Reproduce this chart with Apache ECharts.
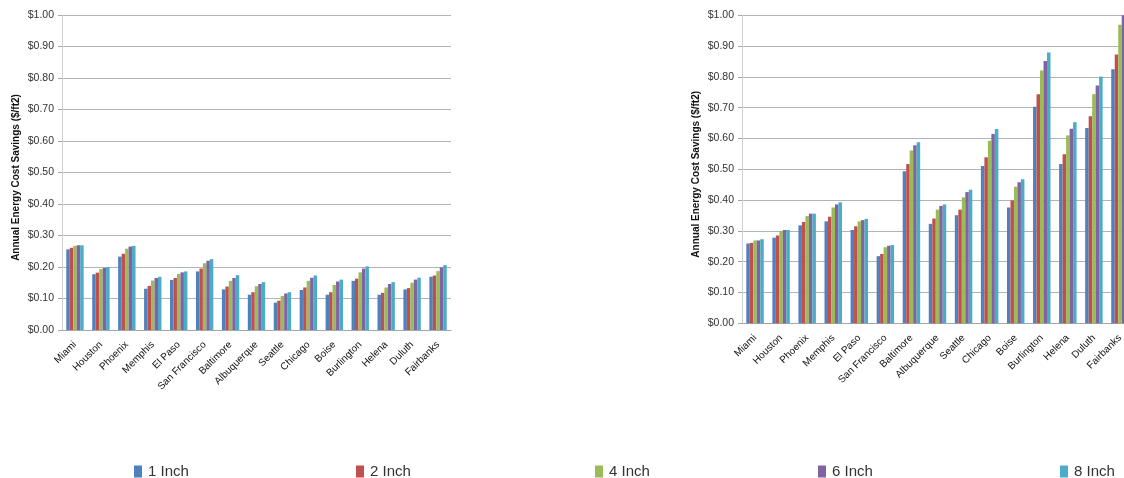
<!DOCTYPE html>
<html>
<head>
<meta charset="utf-8">
<script src="https://cdn.jsdelivr.net/npm/echarts@6/dist/echarts.min.js"></script>
<style>
  html, body { margin: 0; padding: 0; background: #fff; }
  #chart { width: 1124px; height: 478px; }
</style>
</head>
<body>
<div id="chart"></div>
<script>
// Cities shared by both panels
const cities = ['Miami', 'Houston', 'Phoenix', 'Memphis', 'El Paso', 'San Francisco', 'Baltimore',
  'Albuquerque', 'Seattle', 'Chicago', 'Boise', 'Burlington', 'Helena', 'Duluth', 'Fairbanks'];

const seriesNames = ['1 Inch', '2 Inch', '4 Inch', '6 Inch', '8 Inch'];
const seriesColors = ['#4F81BD', '#C0504D', '#9BBB59', '#8064A2', '#4BACC6'];

// Left panel: annual savings ($/ft2) by insulation thickness
const leftInch1 = [0.256, 0.177, 0.233, 0.131, 0.159, 0.186, 0.129, 0.112, 0.087, 0.127, 0.112, 0.156, 0.112, 0.129, 0.169];
const leftInch2 = [0.261, 0.182, 0.242, 0.140, 0.165, 0.195, 0.138, 0.120, 0.093, 0.135, 0.120, 0.163, 0.118, 0.133, 0.173];
const leftInch4 = [0.267, 0.193, 0.258, 0.157, 0.178, 0.212, 0.156, 0.139, 0.108, 0.156, 0.143, 0.183, 0.135, 0.150, 0.187];
const leftInch6 = [0.269, 0.197, 0.265, 0.165, 0.183, 0.220, 0.165, 0.146, 0.116, 0.166, 0.154, 0.195, 0.146, 0.160, 0.199];
const leftInch8 = [0.269, 0.200, 0.267, 0.169, 0.186, 0.225, 0.174, 0.152, 0.120, 0.173, 0.160, 0.202, 0.152, 0.166, 0.206];

// Right panel: annual savings ($/ft2) by insulation thickness
const rightInch1 = [0.259, 0.278, 0.318, 0.331, 0.303, 0.218, 0.494, 0.323, 0.351, 0.511, 0.376, 0.703, 0.517, 0.634, 0.825];
const rightInch2 = [0.261, 0.285, 0.329, 0.346, 0.315, 0.225, 0.517, 0.340, 0.369, 0.539, 0.399, 0.744, 0.549, 0.672, 0.873];
const rightInch4 = [0.269, 0.300, 0.348, 0.376, 0.331, 0.247, 0.561, 0.369, 0.409, 0.593, 0.443, 0.821, 0.610, 0.744, 0.969];
const rightInch6 = [0.269, 0.303, 0.356, 0.386, 0.335, 0.252, 0.578, 0.381, 0.426, 0.615, 0.458, 0.852, 0.632, 0.772, 1.000];
const rightInch8 = [0.273, 0.303, 0.356, 0.393, 0.339, 0.254, 0.588, 0.386, 0.434, 0.631, 0.468, 0.879, 0.653, 0.801, 1.030];

const leftData = [leftInch1, leftInch2, leftInch4, leftInch6, leftInch8];
const rightData = [rightInch1, rightInch2, rightInch4, rightInch6, rightInch8];

const yTicks = { min: 0, max: 1, interval: 0.1 };
const axisTitle = 'Annual Energy Cost Savings ($/ft2)';
const fontFamily = 'Liberation Sans, Arial, sans-serif';

function makeXAxis(gridIndex) {
  return {
    type: 'category',
    gridIndex: gridIndex,
    data: cities,
    axisLine: { show: true, lineStyle: { color: '#a6a6a6', width: 1 } },
    axisTick: { show: false },
    axisLabel: { rotate: 45, fontSize: 10, color: '#111', margin: 13, interval: 0, fontFamily: fontFamily }
  };
}

function makeYAxis(gridIndex) {
  return {
    type: 'value',
    gridIndex: gridIndex,
    min: yTicks.min,
    max: yTicks.max,
    interval: yTicks.interval,
    name: axisTitle,
    nameLocation: 'middle',
    nameGap: 41,
    nameTextStyle: { fontSize: 10, fontWeight: 'bold', color: '#111', fontFamily: fontFamily, padding: [0, 10, 0, 0] },
    axisLine: { show: true, lineStyle: { color: '#d0d0d0' } },
    axisTick: { show: true, length: 4, lineStyle: { color: '#a6a6a6' } },
    axisLabel: {
      fontSize: 10.5, color: '#333', margin: 8, fontFamily: fontFamily,
      formatter: v => '$' + v.toFixed(2)
    },
    splitLine: { show: true, lineStyle: { color: '#b3b3b3', width: 1 } }
  };
}

const series = [];
[leftData, rightData].forEach((set, panel) => {
  set.forEach((values, i) => {
    series.push({
      name: seriesNames[i],
      type: 'bar',
      xAxisIndex: panel,
      yAxisIndex: panel,
      data: values,
      barGap: '0%',
      barCategoryGap: '33%',
      clip: true,
      itemStyle: { color: seriesColors[i] },
      emphasis: { disabled: true }
    });
  });
});

// One legend entry per thickness, spread across the bottom
const legendLefts = [129, 351, 590, 813, 1055];
const legends = seriesNames.map((n, i) => ({
  data: [n],
  left: legendLefts[i],
  top: 459,
  icon: 'rect',
  itemWidth: 8,
  itemHeight: 12,
  itemGap: 0,
  selectedMode: false,
  textStyle: { fontSize: 15, color: '#333', fontFamily: fontFamily, padding: [0, 0, 0, 1] }
}));

const chart = echarts.init(document.getElementById('chart'), null, { renderer: 'canvas' });
chart.setOption({
  backgroundColor: '#ffffff',
  animation: false,
  legend: legends,
  grid: [
    { left: 62, top: 15, width: 389, height: 315, outerBoundsMode: 'none' },
    { left: 742, top: 15.3, width: 391, height: 308, outerBoundsMode: 'none' }
  ],
  xAxis: [makeXAxis(0), makeXAxis(1)],
  yAxis: [makeYAxis(0), makeYAxis(1)],
  series: series
});
</script>
</body>
</html>
